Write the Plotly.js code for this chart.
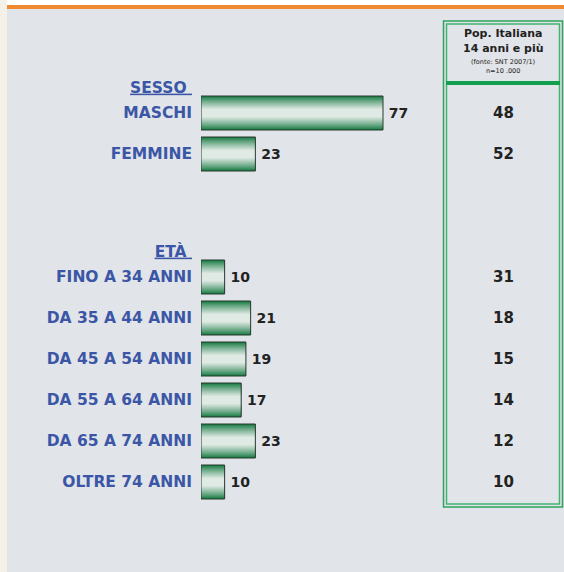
<!DOCTYPE html>
<html>
<head>
<meta charset="utf-8">
<script src="https://cdn.plot.ly/plotly-3.0.1.min.js"></script>
<style>html,body{margin:0;padding:0;background:#e1e4e8;}#chart{width:564px;height:572px;}</style>
</head>
<body>
<div id="chart"></div>
<script>
// ---- data ----
const groupHeaders = ['SESSO', 'ETÀ'];
const sessoCategories = ['MASCHI', 'FEMMINE'];
const sessoValues = [77, 23];
const sessoPopolazione = [48, 52];
const etaCategories = ['FINO A 34 ANNI', 'DA 35 A 44 ANNI', 'DA 45 A 54 ANNI', 'DA 55 A 64 ANNI', 'DA 65 A 74 ANNI', 'OLTRE 74 ANNI'];
const etaValues = [10, 21, 19, 17, 23, 10];
const etaPopolazione = [31, 18, 15, 14, 12, 10];
const tableHeader = ['Pop. Italiana', '14 anni e più', '(fonte: SNT 2007/1)', 'n=10 .000'];

// ---- layout geometry ----
const W = 564, H = 572, L = 201, R = 8, T = 52, B = 48;
const PW = W - L - R, PH = H - T - B;
const pxPerUnit = 182 / 77;
const slot0 = 113, slotH = 41;
const px2x = px => (px - L) / PW;
const py2y = py => (H - B - py) / PH;

const groups = [
  {cats: sessoCategories, vals: sessoValues, pop: sessoPopolazione},
  {cats: etaCategories, vals: etaValues, pop: etaPopolazione}
];
let slots = [], cats = [], vals = [], pops = [], headerSlots = [];
let s = 0;
groups.forEach((g) => {
  headerSlots.push(s - 0.63);
  g.cats.forEach((c, i) => { slots.push(s); cats.push(c); vals.push(g.vals[i]); pops.push(g.pop[i]); s++; });
  s += 2;
});

// vertical gradient approximated by overlaid bars of decreasing thickness
const dark = [22, 122, 66], light = [224, 234, 229];
const BAR_PX = 34, HALF = 17;
const traces = [];
for (let d = 0; d < HALF; d++) {
  const t = Math.pow(Math.min(1, d / 13), 0.85);
  const c = dark.map((v, k) => Math.round(v + (light[k] - v) * t));
  traces.push({
    type: 'bar', orientation: 'h', x: vals, y: slots,
    width: (BAR_PX - 2 * d) / slotH,
    marker: {color: 'rgb(' + c.join(',') + ')', line: {width: 0}},
    textposition: 'none',
    cliponaxis: false, hoverinfo: 'none', showlegend: false
  });
}
// outline + value labels on top
traces.push({
  type: 'bar', orientation: 'h', x: vals, y: slots,
  width: BAR_PX / slotH,
  marker: {color: 'rgba(0,0,0,0)', line: {color: '#2b3a30', width: 1}},
  text: vals.map(v => '\u2009' + v), textposition: 'outside',
  textfont: {family: 'DejaVu Sans', size: 14, color: '#222', weight: 700},
  cliponaxis: false, hoverinfo: 'none', showlegend: false
});

const tickvals = headerSlots.concat(slots);
const ticktext = groupHeaders.map(h => '<u>' + h + '\u00a0</u>').concat(cats);

const shapes = [
  {type: 'rect', xref: 'paper', yref: 'paper', x0: px2x(0), x1: px2x(7), y0: py2y(0), y1: py2y(H), fillcolor: '#f3f1e8', line: {width: 0}, layer: 'below'},
  {type: 'rect', xref: 'paper', yref: 'paper', x0: px2x(7), x1: px2x(W), y0: py2y(0), y1: py2y(5), fillcolor: '#ffffff', line: {width: 0}, layer: 'below'},
  {type: 'rect', xref: 'paper', yref: 'paper', x0: px2x(7), x1: px2x(W), y0: py2y(5), y1: py2y(9), fillcolor: '#ef8a2e', line: {width: 0}, layer: 'below'},
  {type: 'rect', xref: 'paper', yref: 'paper', x0: px2x(443.5), x1: px2x(562.5), y0: py2y(21), y1: py2y(507), fillcolor: 'rgba(0,0,0,0)', line: {width: 1.5, color: '#2ea25e'}, layer: 'below'},
  {type: 'rect', xref: 'paper', yref: 'paper', x0: px2x(446.5), x1: px2x(559.5), y0: py2y(24), y1: py2y(504), fillcolor: 'rgba(0,0,0,0)', line: {width: 1.5, color: '#40b470'}, layer: 'below'},
  {type: 'rect', xref: 'paper', yref: 'paper', x0: px2x(446), x1: px2x(560), y0: py2y(81), y1: py2y(85), fillcolor: '#12a04e', line: {width: 0}, layer: 'below'}
];

const colX = px2x(503);
const annotations = pops.map((p, i) => ({
  xref: 'paper', yref: 'y', x: colX, y: slots[i], text: String(p), showarrow: false,
  xanchor: 'center', yanchor: 'middle',
  font: {family: 'DejaVu Sans', size: 15, color: '#222', weight: 700}
}));
const hdrY = [33, 48, 61.5, 71.5];
const hdrSize = [11, 11, 6.5, 6.5];
tableHeader.forEach((t, i) => annotations.push({
  xref: 'paper', yref: 'paper', x: colX, y: py2y(hdrY[i]), text: t, showarrow: false,
  xanchor: 'center', yanchor: 'middle',
  font: {family: 'DejaVu Sans', size: hdrSize[i], color: '#222', weight: i < 2 ? 700 : 400}
}));

const layout = {
  width: W, height: H,
  margin: {l: L, r: R, t: T, b: B, pad: 0},
  paper_bgcolor: '#e1e4e8', plot_bgcolor: 'rgba(0,0,0,0)',
  barmode: 'overlay', showlegend: false,
  xaxis: {range: [0, PW / pxPerUnit], visible: false, fixedrange: true},
  yaxis: {
    range: [(H - B - slot0) / slotH, (T - slot0) / slotH],
    tickmode: 'array', tickvals: tickvals, ticktext: ticktext,
    ticks: '', showgrid: false, zeroline: false, showline: false,
    ticklabelstandoff: 8,
    tickfont: {family: 'DejaVu Sans', size: 15.5, color: '#3b56a6', weight: 700}
  },
  shapes: shapes, annotations: annotations
};

Plotly.newPlot('chart', traces, layout, {staticPlot: true, displayModeBar: false});
</script>
</body>
</html>
